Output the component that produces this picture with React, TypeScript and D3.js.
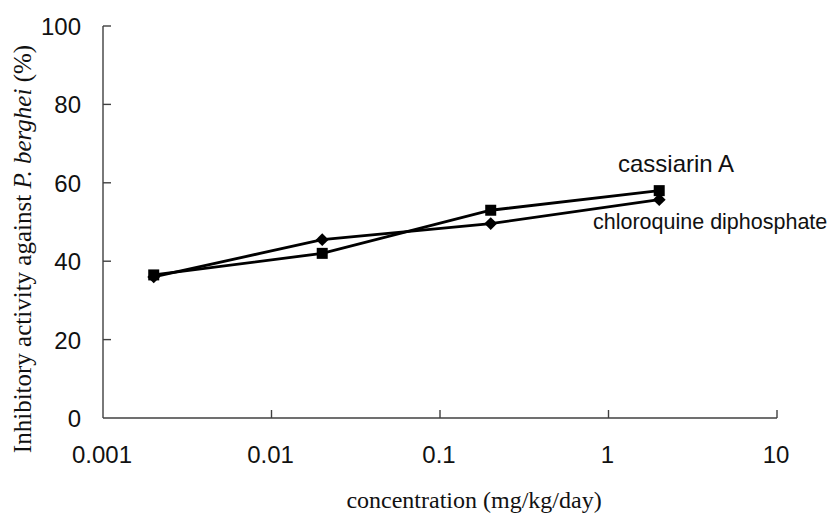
import * as d3 from 'd3';
import { useRef, useEffect } from 'react';

// concentration (mg/kg/day)
const doses = [0.002, 0.02, 0.2, 2];
const cassiarinA = [36.5, 42, 53, 58];
const chloroquine = [36, 45.5, 49.6, 55.7];
const xTicks = [0.001, 0.01, 0.1, 1, 10];
const xTickLabels = ['0.001', '0.01', '0.1', '1', '10'];
const yTicks = [0, 20, 40, 60, 80, 100];

export default function App() {
  const ref = useRef<SVGSVGElement>(null);

  useEffect(() => {
    const width = 837;
    const height = 515;
    const svg = d3.select(ref.current)
      .attr('width', width)
      .attr('height', height)
      .style('display', 'block')
      .style('position', 'absolute')
      .style('left', '0px')
      .style('top', '0px')
      .style('background', '#fff');

    svg.selectAll('*').remove();

    const x = d3.scaleLog().domain([0.001, 10]).range([103, 777]);
    const y = d3.scaleLinear().domain([0, 100]).range([418, 26]);
    const axisColor = '#404040';
    const sans = "'Liberation Sans', Arial, sans-serif";
    const serif = "'Liberation Serif', 'Times New Roman', serif";

    // --- axes ---
    const g = svg.append('g');
    g.append('line')
      .attr('x1', x(0.001)).attr('x2', x(0.001))
      .attr('y1', y(100)).attr('y2', y(0))
      .attr('stroke', axisColor).attr('stroke-width', 1.4);
    g.append('line')
      .attr('x1', x(0.001)).attr('x2', x(10))
      .attr('y1', y(0)).attr('y2', y(0))
      .attr('stroke', axisColor).attr('stroke-width', 1.4);

    // y ticks point inward
    g.selectAll('line.yt')
      .data(yTicks.filter(d => d > 0))
      .join('line')
      .attr('x1', x(0.001)).attr('x2', x(0.001) + 8)
      .attr('y1', d => y(d)).attr('y2', d => y(d))
      .attr('stroke', axisColor).attr('stroke-width', 1.4);

    g.selectAll('text.yl')
      .data(yTicks)
      .join('text')
      .attr('x', 81)
      .attr('y', d => y(d) + 9)
      .attr('text-anchor', 'end')
      .style('font-family', sans)
      .style('font-size', '24px')
      .attr('fill', '#111')
      .text(d => d);

    g.selectAll('line.xt')
      .data(xTicks.slice(1))
      .join('line')
      .attr('x1', d => x(d)).attr('x2', d => x(d))
      .attr('y1', y(0)).attr('y2', y(0) - 8)
      .attr('stroke', axisColor).attr('stroke-width', 1.4);

    g.selectAll('text.xl')
      .data(xTicks)
      .join('text')
      .attr('x', d => x(d) - 1)
      .attr('y', 463)
      .attr('text-anchor', 'middle')
      .style('font-family', sans)
      .style('font-size', '24px')
      .attr('fill', '#111')
      .text((d, i) => xTickLabels[i]);

    // axis titles
    svg.append('text')
      .attr('x', 474)
      .attr('y', 508)
      .attr('text-anchor', 'middle')
      .style('font-family', serif)
      .style('font-size', '24px')
      .attr('fill', '#111')
      .text('concentration (mg/kg/day)');

    const yTitle = svg.append('text')
      .attr('transform', 'translate(31,249) rotate(-90)')
      .attr('text-anchor', 'middle')
      .style('font-family', serif)
      .style('font-size', '25px')
      .attr('fill', '#111');
    yTitle.append('tspan').text('Inhibitory activity against ');
    yTitle.append('tspan').style('font-style', 'italic').text('P. berghei');
    yTitle.append('tspan').text(' (%)');

    // --- series ---
    const line = d3.line<number>()
      .x((d, i) => x(doses[i]))
      .y(d => y(d));

    svg.append('path')
      .attr('d', line(chloroquine))
      .attr('fill', 'none')
      .attr('stroke', '#000')
      .attr('stroke-width', 2.8);
    svg.append('path')
      .attr('d', line(cassiarinA))
      .attr('fill', 'none')
      .attr('stroke', '#000')
      .attr('stroke-width', 2.8);

    // diamonds: square rotated 45 degrees
    svg.selectAll('path.diamond')
      .data(chloroquine)
      .join('path')
      .attr('d', d3.symbol(d3.symbolSquare, 82))
      .attr('transform', (d, i) => `translate(${x(doses[i])},${y(d)}) rotate(45)`)
      .attr('fill', '#000');

    svg.selectAll('rect.square')
      .data(cassiarinA)
      .join('rect')
      .attr('x', (d, i) => x(doses[i]) - 5.5)
      .attr('y', d => y(d) - 5.5)
      .attr('width', 11)
      .attr('height', 11)
      .attr('fill', '#000');

    // series labels
    svg.append('text')
      .attr('x', 618)
      .attr('y', 172)
      .style('font-family', sans)
      .style('font-size', '24px')
      .attr('fill', '#111')
      .text('cassiarin A');
    svg.append('text')
      .attr('x', 593)
      .attr('y', 229)
      .style('font-family', sans)
      .style('font-size', '21.5px')
      .attr('fill', '#111')
      .text('chloroquine diphosphate');
  }, []);

  return <svg ref={ref}></svg>;
}
